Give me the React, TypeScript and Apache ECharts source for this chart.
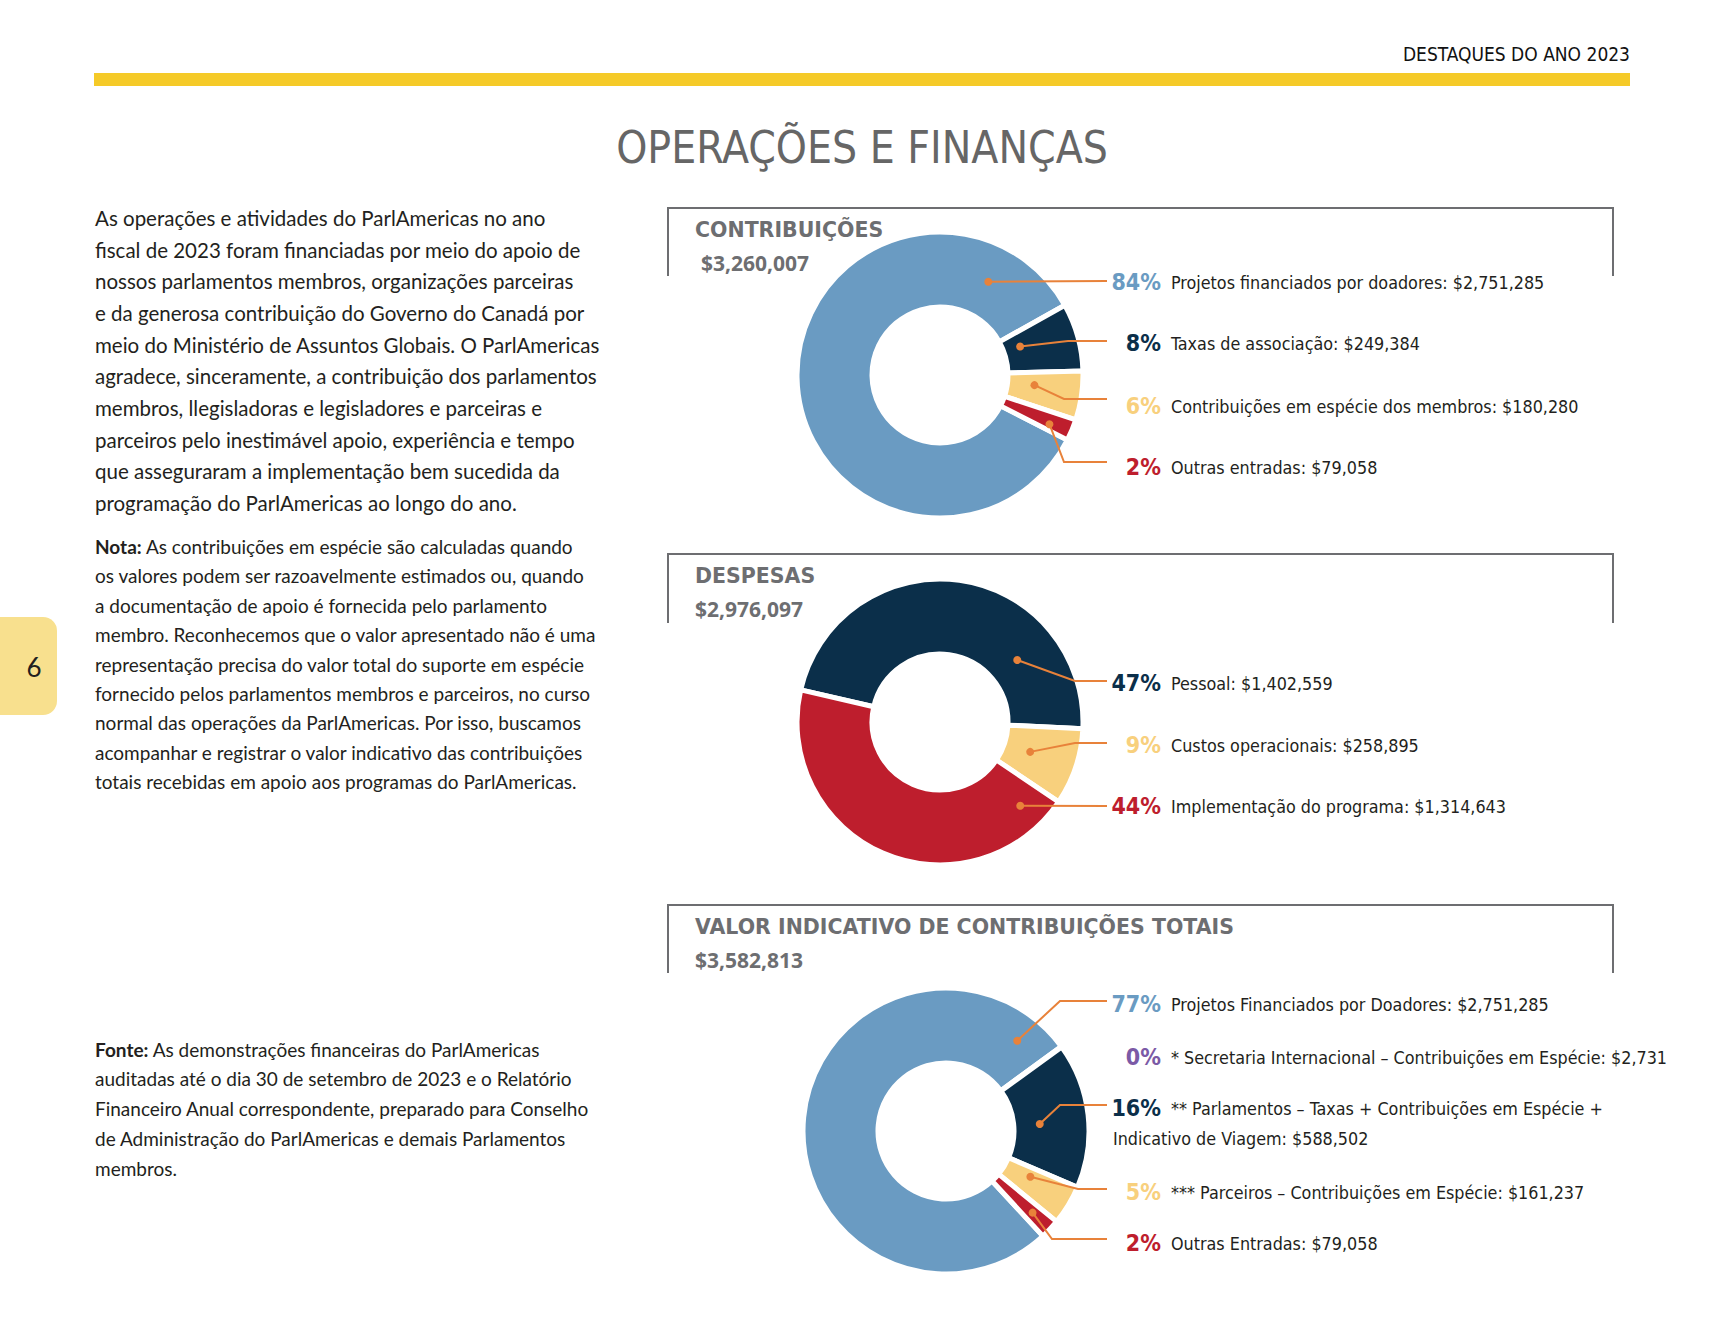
import React, { useEffect, useRef } from 'react';
import * as echarts from 'echarts';

const W = 1723;
const H = 1332;

// ---------- DATA ----------
const contribNames = [
  'Projetos financiados por doadores',
  'Taxas de associação',
  'Contribuições em espécie dos membros',
  'Outras entradas',
];
const contribValues = [2751285, 249384, 180280, 79058];
const contribTotalLabel = '$3,260,007';

const despNames = ['Pessoal', 'Custos operacionais', 'Implementação do programa'];
const despValues = [1402559, 258895, 1314643];
const despTotalLabel = '$2,976,097';

const totalNames = [
  'Projetos Financiados por Doadores',
  '* Secretaria Internacional – Contribuições em Espécie',
  '** Parlamentos – Taxas + Contribuições em Espécie +\nIndicativo de Viagem',
  '*** Parceiros – Contribuições em Espécie',
  'Outras Entradas',
];
const totalValues = [2751285, 2731, 588502, 161237, 79058];
const totalTotalLabel = '$3,582,813';

// ---------- STYLE ----------
const BLUE = '#6A9BC2';
const NAVY = '#0B2F4A';
const YELLOW = '#F8D07D';
const RED = '#BE1E2D';
const PURPLE = '#7B5AA6';
const ORANGE = '#E8823A';
const GRAY = '#6d6e71';
const INK = '#231f20';

const NARROW = "'DejaVu Sans Condensed', 'Liberation Sans Narrow', sans-serif";
const BODY = "Lato, 'Open Sans', sans-serif";
const HEAD = "'DejaVu Sans', 'Open Sans', sans-serif";
const NUM = "'Open Sans', Lato, sans-serif";

const LABEL_X = 1113;
const LINE_END_X = 1107;

const charts = [
  {
    title: 'CONTRIBUIÇÕES',
    totalLabel: contribTotalLabel,
    names: contribNames,
    values: contribValues,
    colors: [BLUE, NAVY, YELLOW, RED],
    center: [940, 375],
    startAngle: 333,
    boxTop: 208,
    boxBottom: 276,
    titleY: 230,
    totalY: 263,
    totalX: 701,
    dots: [
      { t: 0.89, r: 105 },
      { t: 0.35, r: 85 },
      { t: 0.39, r: 95 },
      { t: 0.68, r: 120 },
    ],
    labelY: [282, 343, 406, 467],
    lineY: [281, 341, 399, 462],
    bendX: [null, 1068, 1064, 1064],
  },
  {
    title: 'DESPESAS',
    totalLabel: despTotalLabel,
    names: despNames,
    values: despValues,
    colors: [NAVY, YELLOW, RED],
    center: [940, 722],
    startAngle: 167,
    boxTop: 554,
    boxBottom: 623,
    titleY: 576,
    totalY: 609,
    totalX: 695,
    dots: [
      { t: 0.756, r: 99 },
      { t: 0.5, r: 95 },
      { t: 0.077, r: 116 },
    ],
    labelY: [683, 745, 806],
    lineY: [681, 743, 806],
    bendX: [1075, 1075, null],
  },
  {
    title: 'VALOR INDICATIVO DE CONTRIBUIÇÕES TOTAIS',
    totalLabel: totalTotalLabel,
    names: totalNames,
    values: totalValues,
    colors: [BLUE, PURPLE, NAVY, YELLOW, RED],
    center: [946, 1131],
    startAngle: 312.7,
    boxTop: 905,
    boxBottom: 973,
    titleY: 927,
    totalY: 960,
    totalX: 695,
    dots: [
      { t: 0.944, r: 115 },
      null,
      { t: 0.536, r: 94 },
      { t: 0.33, r: 96 },
      { t: 0.5, r: 119 },
    ],
    labelY: [1004, 1057, 1123, 1192, 1243],
    lineY: [1001, null, 1105, 1189, 1239],
    bendX: [1060, null, 1060, 1078, 1052],
  },
];

const paraLines = [
  'As operações e atividades do ParlAmericas no ano',
  'fiscal de 2023 foram financiadas por meio do apoio de',
  'nossos parlamentos membros, organizações parceiras',
  'e da generosa contribuição do Governo do Canadá por',
  'meio do Ministério de Assuntos Globais. O ParlAmericas',
  'agradece, sinceramente, a contribuição dos parlamentos',
  'membros, llegisladoras e legisladores e parceiras e',
  'parceiros pelo inestimável apoio, experiência e tempo',
  'que asseguraram a implementação bem sucedida da',
  'programação do ParlAmericas ao longo do ano.',
];
const notaLines = [
  '{b|Nota:} As contribuições em espécie são calculadas quando',
  'os valores podem ser razoavelmente estimados ou, quando',
  'a documentação de apoio é fornecida pelo parlamento',
  'membro. Reconhecemos que o valor apresentado não é uma',
  'representação precisa do valor total do suporte em espécie',
  'fornecido pelos parlamentos membros e parceiros, no curso',
  'normal das operações da ParlAmericas. Por isso, buscamos',
  'acompanhar e registrar o valor indicativo das contribuições',
  'totais recebidas em apoio aos programas do ParlAmericas.',
];
const fonteLines = [
  '{b|Fonte:} As demonstrações financeiras do ParlAmericas',
  'auditadas até o dia 30 de setembro de 2023 e o Relatório',
  'Financeiro Anual correspondente, preparado para Conselho',
  'de Administração do ParlAmericas e demais Parlamentos',
  'membros.',
];

// ---------- GEOMETRY HELPERS (mirror the pie's angle layout) ----------
function sliceAngles(values: number[], startAngle: number) {
  const total = values.reduce((a, b) => a + b, 0);
  let a = startAngle;
  return values.map((v) => {
    const span = (v / total) * 360;
    const s = a;
    a -= span;
    return [s, a];
  });
}
function polar(c: number[], r: number, deg: number) {
  const rad = (deg * Math.PI) / 180;
  return [c[0] + r * Math.cos(rad), c[1] - r * Math.sin(rad)];
}
function dotPoint(cfg: any, i: number) {
  const d = cfg.dots[i];
  if (!d) return null;
  const [s, e] = sliceAngles(cfg.values, cfg.startAngle)[i];
  return polar(cfg.center, d.r, s + (e - s) * d.t);
}
function leaderPoints(cfg: any, i: number) {
  const dot = dotPoint(cfg, i);
  if (!dot) return null;
  const ly = cfg.lineY[i];
  const pts = [dot];
  if (cfg.bendX[i] != null) pts.push([cfg.bendX[i], ly]);
  pts.push([LINE_END_X, ly]);
  return pts;
}
function money(v: number) {
  return '$' + v.toLocaleString('en-US');
}

function buildOption() {
  const series = charts.map((cfg) => {
    const total = cfg.values.reduce((a, b) => a + b, 0);
    const rich: any = {
      d: {
        align: 'right',
        padding: [0, 0, 0, 10],
        fontFamily: NARROW,
        fontSize: 17.8,
        color: INK,
        lineHeight: 30,
      },
      e: {
        align: 'left',
        fontFamily: NARROW,
        fontSize: 17.8,
        color: INK,
        lineHeight: 30,
      },
    };
    cfg.colors.forEach((c, i) => {
      rich['p' + i] = {
        width: 48,
        align: 'right',
        fontFamily: NARROW,
        fontWeight: 'bold',
        fontSize: 23,
        color: c,
        lineHeight: 30,
      };
    });
    return {
      type: 'pie',
      center: cfg.center,
      radius: [68, 143],
      startAngle: cfg.startAngle,
      clockwise: true,
      avoidLabelOverlap: false,
      silent: true,
      emphasis: { disabled: true },
      itemStyle: { borderColor: '#ffffff', borderWidth: 5 },
      label: {
        show: true,
        position: 'outside',
        formatter: (p: any) => {
          const i = p.dataIndex;
          const pct = Math.round((cfg.values[i] / total) * 100) + '%';
          const parts = cfg.names[i].split('\n');
          const last = parts.length - 1;
          let s = `{p${i}|${pct}}{d|${parts[0]}${last === 0 ? ': ' + money(cfg.values[i]) : ''}}`;
          for (let k = 1; k < parts.length; k++) {
            s += `\n{e|${parts[k]}${k === last ? ': ' + money(cfg.values[i]) : ''}}`;
          }
          return s;
        },
        rich,
      },
      labelLine: { show: false },
      labelLayout: (params: any) => ({
        x: LABEL_X,
        y: cfg.labelY[params.dataIndex],
        align: 'left',
        verticalAlign: 'middle',
      }),
      data: cfg.values.map((v, i) => ({
        value: v,
        name: cfg.names[i],
        itemStyle: { color: cfg.colors[i] },
      })),
    };
  });

  const graphics: any[] = [];

  // header
  graphics.push({
    type: 'text',
    style: {
      text: 'DESTAQUES DO ANO 2023',
      x: 1630,
      y: 54,
      align: 'right',
      verticalAlign: 'middle',
      fontFamily: NARROW,
      fontSize: 19,
      fill: '#111111',
    },
  });
  graphics.push({
    type: 'rect',
    shape: { x: 94, y: 73, width: 1536, height: 13 },
    style: { fill: '#F5CA28' },
  });
  graphics.push({
    type: 'text',
    style: {
      text: 'OPERAÇÕES E FINANÇAS',
      x: 862,
      y: 147,
      align: 'center',
      verticalAlign: 'middle',
      fontFamily: NARROW,
      fontSize: 44,
      fill: '#666666',
    },
  });

  // page tab
  graphics.push({
    type: 'rect',
    shape: { x: -20, y: 617, width: 77, height: 98, r: 14 },
    style: { fill: '#F8E08E' },
  });
  graphics.push({
    type: 'text',
    style: {
      text: '6',
      x: 34,
      y: 667,
      align: 'center',
      verticalAlign: 'middle',
      fontFamily: BODY,
      fontSize: 26,
      fill: INK,
    },
  });

  // left paragraphs
  paraLines.forEach((t, i) => {
    graphics.push({
      type: 'text',
      style: {
        text: t,
        x: 95,
        y: 218 + i * 31.67,
        verticalAlign: 'middle',
        fontFamily: BODY,
        fontSize: 20.5,
        fill: INK,
      },
    });
  });
  const smallText = (lines: string[], y0: number, step: number) =>
    lines.forEach((t, i) => {
      graphics.push({
        type: 'text',
        style: {
          text: t,
          x: 95,
          y: y0 + i * step,
          verticalAlign: 'middle',
          fontFamily: BODY,
          fontSize: 19,
          fill: INK,
          rich: {
            b: { fontFamily: BODY, fontSize: 19, fontWeight: 'bold', fill: INK },
          },
        },
      });
    });
  smallText(notaLines, 546.5, 29.4);
  smallText(fonteLines, 1049, 29.75);

  // boxes, titles, totals, leader lines, dots
  charts.forEach((cfg) => {
    graphics.push({
      type: 'polyline',
      shape: {
        points: [
          [668, cfg.boxBottom],
          [668, cfg.boxTop],
          [1613, cfg.boxTop],
          [1613, cfg.boxBottom],
        ],
      },
      style: { stroke: GRAY, lineWidth: 2, fill: null },
    });
    graphics.push({
      type: 'text',
      style: {
        text: cfg.title,
        x: 695,
        y: cfg.titleY,
        verticalAlign: 'middle',
        fontFamily: HEAD,
        fontWeight: 'bold',
        fontSize: 20.5,
        fill: GRAY,
      },
    });
    graphics.push({
      type: 'text',
      style: {
        text: cfg.totalLabel,
        x: cfg.totalX,
        y: cfg.totalY,
        verticalAlign: 'middle',
        fontFamily: NUM,
        fontWeight: 'bold',
        fontSize: 21,
        fill: GRAY,
      },
    });
    cfg.values.forEach((_, i) => {
      const pts = leaderPoints(cfg, i);
      if (!pts) return;
      graphics.push({
        type: 'polyline',
        z: 100,
        shape: { points: pts },
        style: { stroke: ORANGE, lineWidth: 2, fill: null },
      });
      graphics.push({
        type: 'circle',
        z: 101,
        shape: { cx: pts[0][0], cy: pts[0][1], r: 4 },
        style: { fill: ORANGE },
      });
    });
  });

  return {
    animation: false,
    backgroundColor: '#ffffff',
    series,
    graphic: { elements: graphics },
  };
}

export default function App() {
  const ref = useRef<HTMLDivElement>(null);
  useEffect(() => {
    document.body.style.margin = '0';
    if (!ref.current) return;
    const chart = echarts.init(ref.current, null, { renderer: 'svg', width: W, height: H });
    chart.setOption(buildOption() as any);
    return () => chart.dispose();
  }, []);
  return <div ref={ref} style={{ width: W, height: H, background: '#fff' }} />;
}
